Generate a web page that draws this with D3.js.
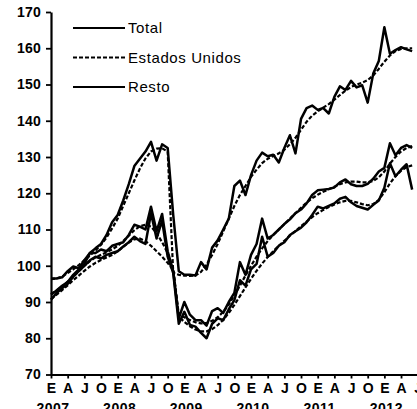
<!DOCTYPE html>
<html>
<head>
<meta charset="utf-8">
<script src="https://cdn.jsdelivr.net/npm/d3@7"></script>
<style>
  body { margin: 0; background: #fff; }
  svg { display: block; font-family: "Liberation Sans", Arial, sans-serif; }
</style>
</head>
<body>
<script>
// ---- data : monthly, Jan 2007 .. Jun 2012 ----
var quarterLetters = ["E", "A", "J", "O"]
var years = ["2007", "2008", "2009", "2010", "2011", "2012"]
var yTicks = [70, 80, 90, 100, 110, 120, 130, 140, 150, 160, 170]

var restoRaw = [
  96.5, 96.5, 96.8, 98.5, 99.8, 99.3, 101.5, 103.5, 104.8, 106, 108.5, 112,
  114, 118, 122.5, 127.5, 129.5, 131.5, 134.2, 129, 133.5, 132.5, 114, 98.5,
  97.5, 97.5, 97.3, 101, 99, 105, 107, 110, 113, 122, 123.5, 119.5,
  125, 129, 131.2, 130.2, 130.6, 128.5, 132.5, 136, 131, 140.5, 143.5, 144.2,
  143, 143.5, 142, 146.6, 149.5, 148.5, 151, 149.2, 149.8, 145, 153, 156.5,
  165.8, 158.5, 159.5, 160.3, 159.7, 159.2]
var restoTrend = [
  96.3, 96.5, 97, 98, 99, 100.2, 101.5, 102.8, 104.2, 105.8, 107.8, 110.3,
  113, 116.5, 120, 123.5, 126.8, 129.6, 131.5, 132.3, 132.4, 131.5, 98, 97.5,
  97.3, 97.2, 97.3, 98.3, 100.3, 103, 106, 109.5, 113, 116.5, 119.5, 122,
  124.5, 126.5, 128.3, 129.5, 130.3, 131, 132, 133.5, 135.3, 137.5, 139.7, 141.4,
  142.6, 143.6, 144.6, 145.8, 147.1, 148.3, 149.3, 150, 150.5, 151.2, 152.5, 154.3,
  156.3, 158, 159.2, 159.8, 160, 160]
var totalRaw = [
  92, 93.2, 94.5, 95.5, 97.5, 99, 100.5, 103.5, 103.5, 104.5, 104, 105.5,
  106, 106.5, 108.5, 111.3, 110.8, 110, 116.3, 109.5, 114.3, 104, 98.5, 85.5,
  90, 86.5, 85, 85, 83.5, 87.5, 88.3, 87, 90, 92.5, 101, 97.5,
  103, 106, 113, 107.5, 108.5, 110, 111.5, 112.8, 114.5, 115.5, 117.2, 119.5,
  120.8, 121, 121.2, 121.6, 123, 123.8, 122.5, 122, 122, 122.6, 124, 126,
  127, 133.8, 130.5, 132.5, 133.3, 132.5]
var totalTrend = [
  92.2, 93.2, 94.3, 95.6, 97, 98.5, 100, 101.3, 102.3, 103, 103.7, 104.5,
  105.5, 106.8, 108.3, 109.8, 110.9, 111.3, 110.8, 109, 106.5, 103.5, 99, 86.5,
  85.8, 85, 84.4, 84.1, 84.2, 84.8, 85.8, 87.3, 89.3, 91.8, 94.5, 97.3,
  100, 102.5, 104.8, 106.8, 108.5, 110, 111.5, 113, 114.5, 116, 117.4, 118.6,
  119.6, 120.4, 121.1, 121.8, 122.5, 123, 123.2, 123.2, 123, 123, 123.4, 124.4,
  126, 128.2, 130, 131.5, 132.5, 133]
var usRaw = [
  90.6, 92.5, 93.8, 95, 97, 98.5, 100, 101.5, 102.5, 102, 103, 103.5,
  104, 105.3, 106.5, 108, 106.8, 106, 114.5, 107.5, 112.5, 102.5, 98, 84,
  87.3, 83.7, 83.2, 81.5, 80, 84, 85.5, 85, 88, 90.5, 96, 94.5,
  99, 100.5, 108, 102.5, 103.5, 105.5, 106.5, 108.5, 109.5, 110.5, 112, 114,
  116.3, 115.8, 116.5, 117.2, 118.5, 119, 117.5, 116.5, 116, 115.5, 116.8, 118,
  121.5, 128.3, 124.7, 126.5, 128, 121]
var usTrend = [
  90.8, 92, 93.3, 94.6, 96, 97.3, 98.6, 99.8, 100.8, 101.6, 102.3, 103,
  104, 105.2, 106.4, 107.3, 107.5, 106.8, 105.5, 104, 102.5, 100.8, 98.8, 86,
  84.5, 83.3, 82.4, 81.9, 81.9, 82.5, 83.6, 85.1, 87, 89.2, 91.6, 94,
  96.4, 98.6, 100.6, 102.4, 104, 105.5, 106.9, 108.3, 109.6, 110.9, 112.2, 113.4,
  114.5, 115.4, 116.2, 116.9, 117.5, 117.9, 117.9, 117.5, 117, 116.7, 117, 118.2,
  120.3, 122.7, 124.7, 126.2, 127.2, 127.7]

var legendItems = [
  {label: "Total", dash: null},
  {label: "Estados Unidos", dash: "4,2"},
  {label: "Resto", dash: null}
]

// ---- layout ----
var W = 417, H = 409
var svg = d3.select("body").append("svg").attr("width", W).attr("height", H)

var x = d3.scaleLinear().domain([0, 66]).range([51, 417.7])
var y = d3.scaleLinear().domain([70, 170]).range([374.5, 12])

// y axis
var gy = svg.append("g").attr("transform", "translate(51,0)")
  .call(d3.axisLeft(y).tickValues(yTicks).tickSize(5).tickPadding(5).tickSizeOuter(0))
gy.select(".domain").attr("stroke-width", 2.2)
gy.selectAll(".tick line").attr("stroke-width", 1.8)
gy.selectAll("text").attr("font-size", 14).attr("font-weight", "bold")
  .attr("letter-spacing", 0.2).attr("fill", "#000")

// x axis
var qTicks = d3.range(0, 67, 3)
var gx = svg.append("g").attr("transform", "translate(0," + y(70) + ")")
  .call(d3.axisBottom(x).tickValues(qTicks).tickSize(4).tickPadding(5).tickSizeOuter(0)
    .tickFormat(function (d) { return quarterLetters[(d / 3) % 4] }))
gx.select(".domain").attr("stroke-width", 2.2)
gx.selectAll(".tick line").attr("stroke-width", 1.8)
gx.selectAll("text").attr("font-size", 14).attr("font-weight", "bold").attr("fill", "#000")

svg.selectAll(".year").data(years).enter().append("text")
  .attr("class", "year")
  .attr("x", function (d, i) { return x(i * 12) + 2 })
  .attr("y", 413)
  .attr("text-anchor", "middle")
  .attr("font-size", 14)
  .attr("font-weight", "bold")
  .attr("letter-spacing", 0.5)
  .text(function (d) { return d })

// ---- lines ----
var line = d3.line().x(function (d, i) { return x(i) }).y(function (d) { return y(d) })

var series = [
  {values: restoTrend, dash: "4,2"},
  {values: totalTrend, dash: "4,2"},
  {values: usTrend, dash: "4,2"},
  {values: restoRaw, dash: null},
  {values: totalRaw, dash: null},
  {values: usRaw, dash: null}
]

svg.selectAll(".serie").data(series).enter().append("path")
  .attr("class", "serie")
  .attr("d", function (s) { return line(s.values) })
  .attr("fill", "none")
  .attr("stroke", "#000")
  .attr("stroke-width", function (s) { return s.dash ? 2.2 : 2.5 })
  .attr("stroke-linejoin", "round")
  .attr("stroke-dasharray", function (s) { return s.dash })

// ---- legend ----
var lg = svg.selectAll(".lg").data(legendItems).enter().append("g")
  .attr("class", "lg")
  .attr("transform", function (d, i) { return "translate(73," + (28 + i * 29.5) + ")" })
lg.append("line").attr("x1", 0).attr("x2", 52)
  .attr("stroke", "#000").attr("stroke-width", 2.2)
  .attr("stroke-dasharray", function (d) { return d.dash })
lg.append("text").attr("x", 55).attr("y", 5)
  .attr("font-size", 15).attr("letter-spacing", 0.6)
  .text(function (d) { return d.label })
</script>
</body>
</html>
